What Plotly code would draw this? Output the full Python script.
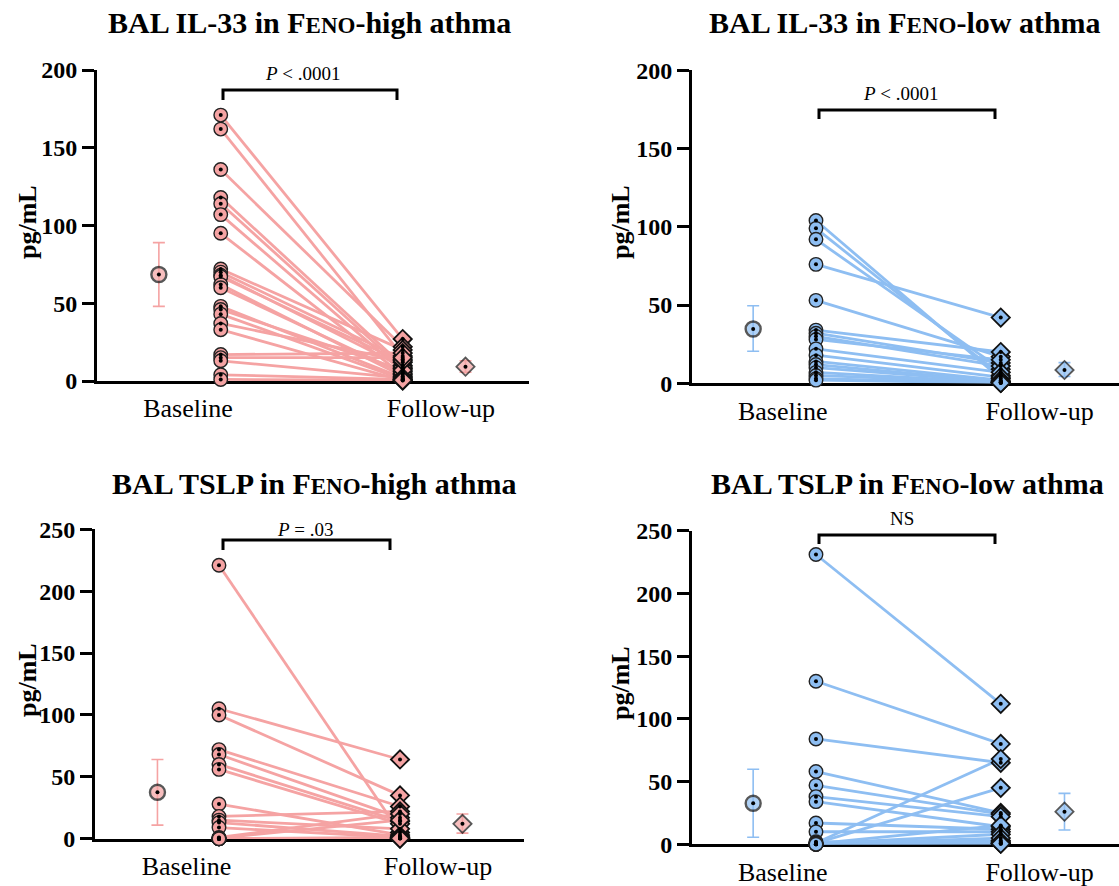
import plotly.graph_objects as go

W, H = 1119, 886

# ---------------- data (pg/mL) ----------------
# Panel 1: BAL IL-33, FeNO-high asthma
il33_high_baseline = [171, 162, 136, 118, 114, 107, 95, 72, 70, 68, 67, 62, 60, 48, 46, 43, 37, 33, 17, 15, 13, 4, 1]
il33_high_followup = [27, 16, 22, 10, 8, 6, 4, 20, 14, 9, 12, 3, 5, 2, 7, 1, 13, 0.3, 18, 15, 2, 1, 0.5]
il33_high_mean = [68.5, 9.2]
il33_high_lo = [48, 5.6]
il33_high_hi = [89, 13]

# Panel 2: BAL IL-33, FeNO-low asthma
il33_low_baseline = [104, 99, 92, 76, 53, 34, 32, 30, 28, 22, 18, 14, 12, 10, 7, 5, 3, 2]
il33_low_followup = [3, 5, 9, 42, 17, 20, 13, 11, 15, 7, 4, 2, 1, 1, 0.5, 0.5, 0.3, 0.2]
il33_low_mean = [34.7, 8.5]
il33_low_lo = [20.5, 4.3]
il33_low_hi = [49.6, 13.2]

# Panel 3: BAL TSLP, FeNO-high asthma
tslp_high_baseline = [221, 105, 100, 72, 68, 60, 56, 28, 18, 15, 13, 9, 1, 0.5, 0, 0, 0, 0, 0, 0]
tslp_high_followup = [5, 64, 35, 26, 17, 14, 12, 3, 22, 8, 2, 1, 20, 15, 1, 0.5, 0.5, 0.3, 0.2, 0.2]
tslp_high_mean = [37.5, 12]
tslp_high_lo = [11, 4.5]
tslp_high_hi = [64, 20]

# Panel 4: BAL TSLP, FeNO-low asthma
tslp_low_baseline = [231, 130, 84, 58, 47, 38, 34, 17, 10, 2, 1, 1, 0.5, 0.5, 0.3, 0, 0, 0, 0, 0]
tslp_low_followup = [112, 80, 65, 25, 24, 22, 14, 12, 10, 3, 68, 45, 15, 8, 5, 2, 1, 1, 0.5, 0.5]
tslp_low_mean = [32.7, 26]
tslp_low_lo = [5.6, 11.4]
tslp_low_hi = [59.8, 40.6]

groups = ["Baseline", "Follow-up"]
pvalues = ["<i>P</i> &lt; .0001", "<i>P</i> &lt; .0001", "<i>P</i> = .03", "NS"]
titles = [
    "BAL IL-33 in F<span style='font-size:23px'>ENO</span>-high athma",
    "BAL IL-33 in F<span style='font-size:23px'>ENO</span>-low athma",
    "BAL TSLP in F<span style='font-size:23px'>ENO</span>-high athma",
    "BAL TSLP in F<span style='font-size:23px'>ENO</span>-low athma",
]

PINK = "#F5A3A3"
BLUE = "#8EBEF2"
FONT = "Liberation Serif"


def px(x):
    return x / W


def py(y):
    return 1 - y / H


panels = [
    dict(base=il33_high_baseline, fu=il33_high_followup, mean=il33_high_mean, lo=il33_high_lo, hi=il33_high_hi,
         color=PINK, xdom=(97, 529), xr=(0.32, 2.694), ypx=(381, 70), yr=(0, 200), dtick=50,
         title=(309, 23), ytitle=(27, 222), ptext=(303, 74), bracket=(223, 397, 90, 100)),
    dict(base=il33_low_baseline, fu=il33_low_followup, mean=il33_low_mean, lo=il33_low_lo, hi=il33_low_hi,
         color=BLUE, xdom=(692, 1119), xr=(0.329, 2.64), ypx=(383.3, 70.3), yr=(0, 200), dtick=50,
         title=(905, 23), ytitle=(620, 222), ptext=(901, 94), bracket=(819, 995, 110, 119)),
    dict(base=tslp_high_baseline, fu=tslp_high_followup, mean=tslp_high_mean, lo=tslp_high_lo, hi=tslp_high_hi,
         color=PINK, xdom=(95, 524), xr=(0.315, 2.685), ypx=(838.7, 529.3), yr=(0, 250), dtick=50,
         title=(314, 483), ytitle=(27, 680), ptext=(305, 529), bracket=(223, 390, 540, 550)),
    dict(base=tslp_low_baseline, fu=tslp_low_followup, mean=tslp_low_mean, lo=tslp_low_lo, hi=tslp_low_hi,
         color=BLUE, xdom=(692, 1119), xr=(0.329, 2.64), ypx=(844.3, 530.7), yr=(0, 250), dtick=50,
         title=(907, 483), ytitle=(620, 683), ptext=(902, 518), bracket=(819, 995, 535, 544)),
]

X_BASE, X_FU = 1, 2
X_MEAN = [0.66, 2.345]
X_LABEL = [0.82, 2.21]

fig = go.Figure()
annotations = []
shapes = []

for i, p in enumerate(panels):
    n = i + 1
    xa = "x" if n == 1 else f"x{n}"
    ya = "y" if n == 1 else f"y{n}"
    # paired lines
    lx, ly = [], []
    for b, f in zip(p["base"], p["fu"]):
        lx += [X_BASE, X_FU, None]
        ly += [b, f, None]
    fig.add_trace(go.Scatter(x=lx, y=ly, mode="lines", line=dict(color=p["color"], width=2.8),
                             xaxis=xa, yaxis=ya, hoverinfo="skip", cliponaxis=False, showlegend=False))
    # individual points
    fig.add_trace(go.Scatter(x=[X_BASE] * len(p["base"]), y=p["base"], mode="markers",
                             marker=dict(symbol="circle", size=13.5, color=p["color"], line=dict(color="#222", width=1.4)),
                             xaxis=xa, yaxis=ya, cliponaxis=False, showlegend=False))
    fig.add_trace(go.Scatter(x=[X_FU] * len(p["fu"]), y=p["fu"], mode="markers",
                             marker=dict(symbol="diamond", size=14, color=p["color"], line=dict(color="#111", width=1.8)),
                             xaxis=xa, yaxis=ya, cliponaxis=False, showlegend=False))
    # mean with error bars
    fig.add_trace(go.Scatter(x=X_MEAN, y=p["mean"], mode="markers",
                             marker=dict(symbol=["circle", "diamond"], size=[15, 14], color=p["color"],
                                         line=dict(color="#111", width=[2.4, 1.8])),
                             error_y=dict(type="data", symmetric=False,
                                          array=[h - m for h, m in zip(p["hi"], p["mean"])],
                                          arrayminus=[m - l for m, l in zip(p["mean"], p["lo"])],
                                          color=p["color"], thickness=1.6, width=6),
                             xaxis=xa, yaxis=ya, cliponaxis=False, showlegend=False))
    # centre dots
    fig.add_trace(go.Scatter(x=[X_BASE] * len(p["base"]) + [X_FU] * len(p["fu"]) + X_MEAN,
                             y=list(p["base"]) + list(p["fu"]) + list(p["mean"]), mode="markers",
                             marker=dict(symbol="circle", size=4, color="#000"),
                             xaxis=xa, yaxis=ya, cliponaxis=False, showlegend=False, hoverinfo="skip"))

    xkey = "xaxis" if n == 1 else f"xaxis{n}"
    ykey = "yaxis" if n == 1 else f"yaxis{n}"
    fig.layout[xkey] = dict(domain=[px(p["xdom"][0]), min(1, px(p["xdom"][1]))], range=list(p["xr"]),
                            anchor=ya, showline=True, linewidth=3, linecolor="black", showgrid=False,
                            zeroline=False, ticks="", tickvals=X_LABEL, ticktext=groups, automargin=False,
                            tickfont=dict(family=FONT, size=26, color="black"), ticklabelstandoff=2,
                            layer="below traces")
    fig.layout[ykey] = dict(domain=[py(p["ypx"][0]), py(p["ypx"][1])], range=list(p["yr"]),
                            anchor=xa, showline=True, linewidth=3, linecolor="black", showgrid=False,
                            zeroline=False, ticks="outside", ticklen=12, tickwidth=3, tickcolor="black",
                            dtick=p["dtick"], tick0=0, automargin=False,
                            tickfont=dict(family=FONT, size=24, color="black", weight="bold"),
                            layer="below traces")

    annotations.append(dict(text=f"<b>{titles[i]}</b>", x=px(p["title"][0]), y=py(p["title"][1]),
                            xref="paper", yref="paper", xanchor="center", yanchor="middle", showarrow=False,
                            font=dict(family=FONT, size=30, color="black")))
    annotations.append(dict(text="<b>pg/mL</b>", x=px(p["ytitle"][0]), y=py(p["ytitle"][1]), textangle=-90,
                            xref="paper", yref="paper", xanchor="center", yanchor="middle", showarrow=False,
                            font=dict(family=FONT, size=26, color="black")))
    annotations.append(dict(text=pvalues[i], x=px(p["ptext"][0]), y=py(p["ptext"][1]),
                            xref="paper", yref="paper", xanchor="center", yanchor="middle", showarrow=False,
                            font=dict(family=FONT, size=19, color="black")))
    x1, x2, yb, yl = p["bracket"]
    shapes.append(dict(type="path", xref="paper", yref="paper",
                       path=f"M {px(x1)} {py(yl)} L {px(x1)} {py(yb)} L {px(x2)} {py(yb)} L {px(x2)} {py(yl)}",
                       line=dict(color="black", width=3)))

fig.update_layout(width=W, height=H, margin=dict(l=0, r=0, t=0, b=0, pad=0, autoexpand=False),
                  plot_bgcolor="white", paper_bgcolor="white", showlegend=False,
                  annotations=annotations, shapes=shapes)

fig.write_html("out.html")
